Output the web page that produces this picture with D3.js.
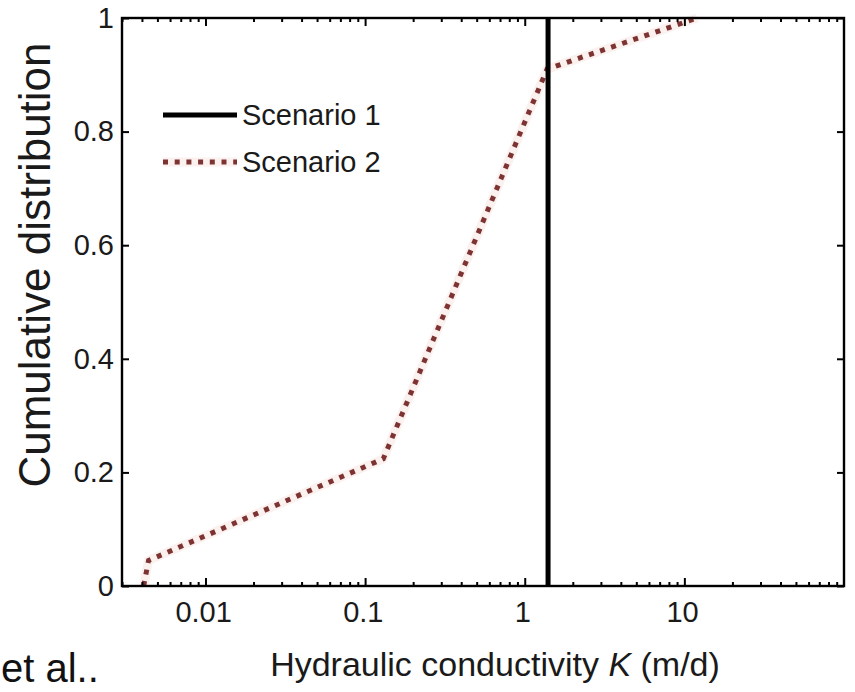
<!DOCTYPE html>
<html>
<head>
<meta charset="utf-8">
<script src="https://cdn.jsdelivr.net/npm/d3@7"></script>
<style>
  html, body { margin: 0; padding: 0; background: #fff; }
  svg { display: block; font-family: "Liberation Sans", Arial, Helvetica, sans-serif; }
</style>
</head>
<body>
<svg id="chart" width="855" height="692"></svg>
<script>
// ---- data ----
const seriesNames = ["Scenario 1", "Scenario 2"];
const scenario1K = [1.4, 1.4];
const scenario1P = [0, 1];
const scenario2K = [0.0041, 0.0044, 0.13, 1.38, 12];
const scenario2P = [0, 0.045, 0.224, 0.91, 1];
const xTickValues = [0.01, 0.1, 1, 10];
const xTickLabels = ["0.01", "0.1", "1", "10"];
const yTickValues = [0, 0.2, 0.4, 0.6, 0.8, 1];
const yTickLabels = ["0", "0.2", "0.4", "0.6", "0.8", "1"];
const xDomain = [0.003, 100];
const yDomain = [0, 1];

// ---- layout ----
const svg = d3.select("#chart");
const L = 122, R = 844, T = 18, B = 586;
const x = d3.scaleLog().domain(xDomain).range([L, R]);
const y = d3.scaleLinear().domain(yDomain).range([B, T]);

const dotColor = "#7e3333";
const dotWidth = 5;
const dotDash = "5,6.7";
const haloColor = "#f6dcd8";
const haloOpacity = 0.4;

// minor ticks on log axis
const minorTicks = [];
for (let e = -3; e <= 2; e++) {
  for (let m = 2; m <= 9; m++) {
    const v = m * Math.pow(10, e);
    if (v >= xDomain[0] && v <= xDomain[1]) minorTicks.push(v);
  }
}

const g = svg.append("g");

// series 2 (dotted) with faint halo
const line = d3.line().x(d => x(d[0])).y(d => y(d[1]));
const s2 = scenario2K.map((k, i) => [k, scenario2P[i]]);
g.append("path").datum(s2)
  .attr("d", line)
  .attr("fill", "none")
  .attr("stroke", haloColor)
  .attr("stroke-width", 9)
  .attr("stroke-opacity", haloOpacity);
g.append("path").datum(s2)
  .attr("d", line)
  .attr("fill", "none")
  .attr("stroke", dotColor)
  .attr("stroke-width", dotWidth)
  .attr("stroke-dasharray", dotDash);

// series 1 (solid)
const s1 = scenario1K.map((k, i) => [k, scenario1P[i]]);
g.append("path").datum(s1)
  .attr("d", line)
  .attr("fill", "none")
  .attr("stroke", "#000")
  .attr("stroke-width", 5);

// axes (box with inward ticks)
const axStroke = 2.4;
function styleAxis(sel) {
  sel.select(".domain").remove();
  sel.selectAll(".tick line").attr("stroke", "#000").attr("stroke-width", 2);
  sel.selectAll("text").attr("fill", "#1a1a1a").attr("font-size", 29);
}
// bottom major
const xb = svg.append("g").attr("transform", `translate(0,${B})`)
  .call(d3.axisBottom(x).tickValues(xTickValues).tickFormat((d, i) => xTickLabels[i]).tickSizeInner(-8).tickPadding(15));
styleAxis(xb);
xb.selectAll("text").attr("dx", "-0.08em");
// bottom minor
const xbm = svg.append("g").attr("transform", `translate(0,${B})`)
  .call(d3.axisBottom(x).tickValues(minorTicks).tickFormat("").tickSizeInner(-4));
styleAxis(xbm);
// top major/minor
const xt = svg.append("g").attr("transform", `translate(0,${T})`)
  .call(d3.axisTop(x).tickValues(xTickValues).tickFormat("").tickSizeInner(-8));
styleAxis(xt);
const xtm = svg.append("g").attr("transform", `translate(0,${T})`)
  .call(d3.axisTop(x).tickValues(minorTicks).tickFormat("").tickSizeInner(-4));
styleAxis(xtm);
// left
const yl = svg.append("g").attr("transform", `translate(${L},0)`)
  .call(d3.axisLeft(y).tickValues(yTickValues).tickFormat((d, i) => yTickLabels[i]).tickSizeInner(-7).tickPadding(8));
styleAxis(yl);
// right
const yr = svg.append("g").attr("transform", `translate(${R},0)`)
  .call(d3.axisRight(y).tickValues(yTickValues).tickFormat("").tickSizeInner(-7));
styleAxis(yr);

// box
svg.append("rect")
  .attr("x", L).attr("y", T).attr("width", R - L).attr("height", B - T)
  .attr("fill", "none").attr("stroke", "#000").attr("stroke-width", axStroke);

// axis labels
const xl = svg.append("text")
  .attr("x", (L + R) / 2 + 12).attr("y", 676)
  .attr("text-anchor", "middle").attr("font-size", 34).attr("fill", "#1a1a1a");
xl.append("tspan").text("Hydraulic conductivity ");
xl.append("tspan").attr("font-style", "italic").text("K");
xl.append("tspan").text(" (m/d)");

svg.append("text")
  .attr("transform", `translate(50,265) rotate(-90)`)
  .attr("text-anchor", "middle").attr("font-size", 44).attr("fill", "#1a1a1a")
  .text("Cumulative distribution");

// legend
const legY = [115, 162];
const leg = svg.append("g");
seriesNames.forEach((name, i) => {
  const ly = legY[i];
  if (i === 1) {
    leg.append("line").attr("x1", 163).attr("x2", 237).attr("y1", ly).attr("y2", ly)
      .attr("stroke", haloColor).attr("stroke-width", 9).attr("stroke-opacity", haloOpacity);
  }
  const l = leg.append("line").attr("x1", 163).attr("x2", 237).attr("y1", ly).attr("y2", ly);
  if (i === 0) l.attr("stroke", "#000").attr("stroke-width", 5);
  else l.attr("stroke", dotColor).attr("stroke-width", dotWidth).attr("stroke-dasharray", dotDash);
  leg.append("text").attr("x", 242).attr("y", ly + 10)
    .attr("font-size", 29).attr("fill", "#1a1a1a").text(name);
});

// caption fragment at the bottom-left corner
svg.append("text").attr("x", 1).attr("y", 682)
  .attr("text-anchor", "start").attr("font-size", 40).attr("fill", "#111")
  .text("et al..");
</script>
</body>
</html>
